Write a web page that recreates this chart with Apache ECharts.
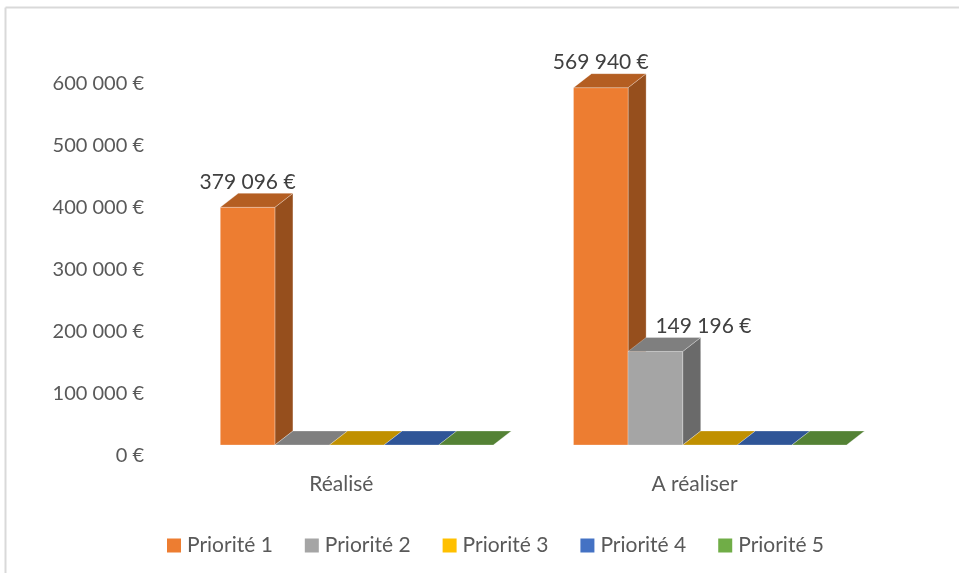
<!DOCTYPE html>
<html>
<head>
<meta charset="utf-8">
<script src="https://cdn.jsdelivr.net/npm/echarts@6/dist/echarts.min.js"></script>
<style>
  html, body { margin: 0; padding: 0; background: #ffffff; }
  #chart { width: 959px; height: 573px; }
</style>
</head>
<body>
<div id="chart"></div>
<script>
// Budget by priority: spent vs remaining
const categories = ['Réalisé', 'A réaliser'];
const seriesNames = ['Priorité 1', 'Priorité 2', 'Priorité 3', 'Priorité 4', 'Priorité 5'];
const priorite1 = [379096, 569940];
const priorite2 = [0, 149196];
const priorite3 = [0, 0];
const priorite4 = [0, 0];
const priorite5 = [0, 0];
const yTicks = [0, 100000, 200000, 300000, 400000, 500000, 600000];

const seriesValues = [priorite1, priorite2, priorite3, priorite4, priorite5];

// face colours for each priority: front, top, side
const palette = [
  { front: '#ED7D31', top: '#B45E22', side: '#964F1D' },
  { front: '#A5A5A5', top: '#7F7F7F', side: '#6A6A6A' },
  { front: '#FFC000', top: '#C09000', side: '#A07800' },
  { front: '#4472C4', top: '#2F5597', side: '#284A85' },
  { front: '#70AD47', top: '#548235', side: '#466E2C' }
];

const FONT = 'Lato, "Open Sans", sans-serif';
const FONT_SIZE = 21;
const AXIS_COLOR = '#595959';
const LABEL_COLOR = '#404040';

// horizontal nudge (px) for data labels that sit beside their column
const labelShift = { '1-1': 48 };

function euro(v) {
  return String(v).replace(/\B(?=(\d{3})+(?!\d))/g, ' ') + ' €';
}

function makeRender(sIdx) {
  return function (params, api) {
    const cat = api.value(0);
    const val = api.value(1);
    const base = api.coord([cat, 0]);
    const top = api.coord([cat, val]);
    const band = api.size([1, 0])[0];
    const barW = band * 0.1546;
    const dx = barW * 0.33;
    const dy = -14;
    const x0 = base[0] - 2.5 * barW + sIdx * barW;
    const x1 = x0 + barW;
    const yB = base[1];
    const yT = top[1];
    const c = palette[sIdx];
    const edge = { stroke: 'rgba(255,255,255,0.35)', lineWidth: 0.8 };
    const children = [];
    if (yB - yT > 0.5) {
      children.push({
        type: 'polygon',
        shape: { points: [[x1, yT], [x1 + dx, yT + dy], [x1 + dx, yB + dy], [x1, yB]] },
        style: Object.assign({ fill: c.side }, edge)
      });
      children.push({
        type: 'rect',
        shape: { x: x0, y: yT, width: barW, height: yB - yT },
        style: Object.assign({ fill: c.front }, edge)
      });
    }
    children.push({
      type: 'polygon',
      shape: { points: [[x0, yT], [x0 + dx, yT + dy], [x1 + dx, yT + dy], [x1, yT]] },
      style: Object.assign({ fill: c.top }, edge)
    });
    if (val > 0) {
      const shift = labelShift[sIdx + '-' + params.dataIndex] || 0;
      children.push({
        type: 'text',
        style: {
          text: euro(val),
          x: x0 + barW / 2 + shift,
          y: yT - 25.5,
          align: 'center',
          verticalAlign: 'middle',
          fill: LABEL_COLOR,
          fontSize: FONT_SIZE,
          fontFamily: FONT
        }
      });
    }
    return { type: 'group', children: children };
  };
}

const series = seriesNames.map(function (name, i) {
  return {
    type: 'custom',
    name: name,
    xAxisIndex: 0,
    yAxisIndex: 0,
    itemStyle: { color: palette[i].front },
    renderItem: makeRender(i),
    data: categories.map(function (_, k) { return [k, seriesValues[i][k]]; }),
    clip: false
  };
});

const chart = echarts.init(document.getElementById('chart'), null, { renderer: 'canvas' });
chart.setOption({
  backgroundColor: '#ffffff',
  animation: false,
  textStyle: { fontFamily: FONT },
  grid: [
    { left: 180.2, right: 72.4, top: 68.8, bottom: 128 },
    { left: 152, width: 10, top: 83.3, bottom: 117 }
  ],
  xAxis: [
    {
      type: 'category',
      gridIndex: 0,
      data: categories,
      axisLine: { show: false },
      axisTick: { show: false },
      axisLabel: {
        color: AXIS_COLOR,
        fontSize: FONT_SIZE,
        fontFamily: FONT,
        margin: 29,
        padding: [0, 31, 0, 0]
      }
    },
    { type: 'value', gridIndex: 1, show: false }
  ],
  yAxis: [
    { type: 'value', gridIndex: 0, min: 0, max: 600000, show: false },
    {
      type: 'value',
      gridIndex: 1,
      min: yTicks[0],
      max: yTicks[yTicks.length - 1],
      interval: yTicks[1] - yTicks[0],
      axisLine: { show: false },
      axisTick: { show: false },
      splitLine: { show: false },
      axisLabel: {
        color: AXIS_COLOR,
        fontSize: 20,
        fontFamily: FONT,
        margin: 8,
        formatter: euro
      }
    }
  ],
  legend: {
    data: seriesNames,
    top: 530,
    left: 162,
    icon: 'rect',
    itemWidth: 14,
    itemHeight: 14,
    itemGap: 32,
    textStyle: { color: AXIS_COLOR, fontSize: FONT_SIZE, fontFamily: FONT, padding: [0, 0, 0, 1] }
  },
  graphic: [
    { type: 'line', shape: { x1: 5.5, y1: 7.5, x2: 960, y2: 7.5 }, style: { stroke: '#D9D9D9', lineWidth: 2 }, silent: true },
    { type: 'line', shape: { x1: 5.5, y1: 7.5, x2: 5.5, y2: 580 }, style: { stroke: '#D9D9D9', lineWidth: 2 }, silent: true }
  ],
  series: series
});
</script>
</body>
</html>
